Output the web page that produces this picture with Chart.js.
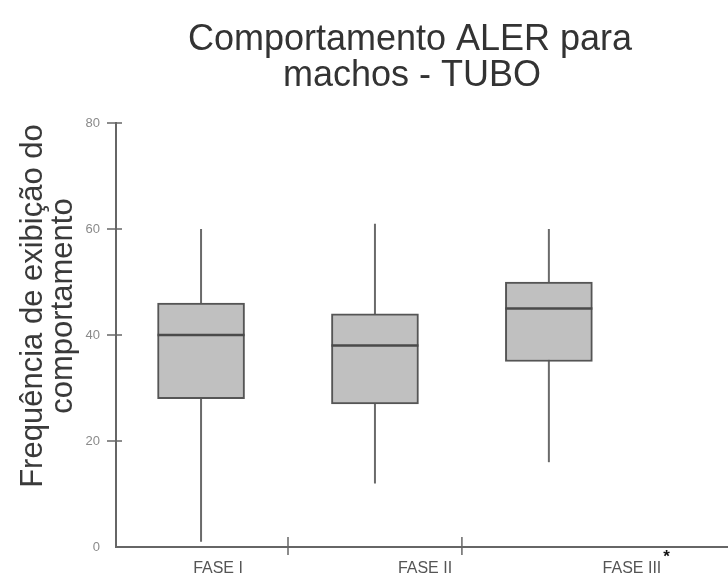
<!DOCTYPE html>
<html>
<head>
<meta charset="utf-8">
<script src="https://cdn.jsdelivr.net/npm/chart.js@4.4.0/dist/chart.umd.min.js"></script>
<style>
    html, body { margin: 0; padding: 0; background: #ffffff; }
    #wrap { width: 728px; height: 575px; }
</style>
</head>
<body>
<div id="wrap"><canvas id="boxChart" width="728" height="575"></canvas></div>
<script>
// dados do boxplot
const categories = ['FASE I', 'FASE II', 'FASE III'];
const minimo  = [1, 12, 16];
const q1      = [28, 27, 35];
const mediana = [40, 38, 45];
const q3      = [46, 44, 50];
const maximo  = [60, 61, 60];
const marcas  = ['', '', '*'];   // marca de significância

const yTicks = [0, 20, 40, 60, 80];
const titleLines = ['Comportamento ALER para', 'machos - TUBO'];
const yTitleLines = ['Frequência de exibição do', 'comportamento'];

const FONT = "'Liberation Sans', Arial, sans-serif";
const AXIS_COLOR = '#666666';
const LABEL_SIZE = 16;

// caixas como barras flutuantes [q1, q3]
const boxData = categories.map((c, i) => ({ x: i + 1, y: [q1[i], q3[i]] }));

/**
 * bigodes, medianas, marcas dos eixos e textos
 */
const boxplotPlugin = {
    id: 'boxplotExtras',
    beforeDatasetsDraw(chart) {
        const { ctx, scales: { x, y } } = chart;
        ctx.save();
        ctx.strokeStyle = '#6a6a6a';
        ctx.lineWidth = 2;
        categories.forEach((c, i) => {
            const px = x.getPixelForValue(i + 1);
            ctx.beginPath();
            ctx.moveTo(px, y.getPixelForValue(minimo[i]));
            ctx.lineTo(px, y.getPixelForValue(maximo[i]));
            ctx.stroke();
        });
        ctx.restore();
    },
    afterDatasetsDraw(chart) {
        const { ctx, scales: { y } } = chart;
        const meta = chart.getDatasetMeta(0);
        ctx.save();
        ctx.strokeStyle = '#4a4a4a';
        ctx.lineWidth = 2.5;
        meta.data.forEach((bar, i) => {
            const half = bar.width / 2;
            const py = y.getPixelForValue(mediana[i]);
            ctx.beginPath();
            ctx.moveTo(bar.x - half, py);
            ctx.lineTo(bar.x + half, py);
            ctx.stroke();
        });
        ctx.restore();
    },
    afterDraw(chart) {
        const { ctx, scales: { x, xLabels, y } } = chart;
        ctx.save();

        // marcas do eixo y (cruzam o eixo)
        ctx.strokeStyle = AXIS_COLOR;
        ctx.lineWidth = 1.5;
        const ax = y.right;
        yTicks.forEach(v => {
            if (v === 0) return;
            const py = y.getPixelForValue(v);
            ctx.beginPath();
            ctx.moveTo(ax - 9, py);
            ctx.lineTo(ax + 6, py);
            ctx.stroke();
        });

        // marcas separadoras no eixo x
        [1.5, 2.5].forEach(v => {
            const px = x.getPixelForValue(v);
            ctx.beginPath();
            ctx.moveTo(px, y.bottom - 10);
            ctx.lineTo(px, y.bottom + 8);
            ctx.stroke();
        });

        // asterisco de significância
        ctx.fillStyle = '#111111';
        ctx.textAlign = 'left';
        ctx.textBaseline = 'middle';
        marcas.forEach((m, i) => {
            if (!m) return;
            ctx.font = LABEL_SIZE + 'px ' + FONT;
            const w = ctx.measureText(categories[i]).width;
            ctx.font = 'bold 17px ' + FONT;
            ctx.fillText(m, xLabels.getPixelForValue(i + 1) + w / 2 + 2, y.bottom + 10);
        });

        // título
        ctx.fillStyle = '#333333';
        ctx.font = '36px ' + FONT;
        ctx.textAlign = 'center';
        ctx.textBaseline = 'alphabetic';
        ctx.fillText(titleLines[0], 410, 50);
        ctx.fillText(titleLines[1], 412, 86);

        // título do eixo y
        ctx.translate(0, 306);
        ctx.rotate(-Math.PI / 2);
        ctx.font = '31px ' + FONT;
        ctx.fillStyle = '#3a3a3a';
        ctx.textBaseline = 'middle';
        ctx.fillText(yTitleLines[0], 0, 33);
        ctx.fillText(yTitleLines[1], 0, 63);
        ctx.restore();
    }
};

new Chart(document.getElementById('boxChart').getContext('2d'), {
    type: 'bar',
    data: {
        datasets: [{
            label: 'Boxplot',
            data: boxData,
            backgroundColor: '#c0c0c0',
            borderColor: '#555555',
            borderWidth: 2,
            borderSkipped: false,
            barThickness: 87
        }]
    },
    options: {
        responsive: false,
        animation: false,
        layout: { padding: { left: 76, top: 123, right: 0, bottom: 0 } },
        plugins: {
            legend: { display: false },
            tooltip: { enabled: false },
            title: { display: false }
        },
        scales: {
            // eixo das caixas (oculto)
            x: {
                type: 'linear',
                display: false,
                min: 0.511,
                max: 4.03,
                offset: false,
                bounds: 'data'
            },
            // eixo visível com os rótulos das fases
            xLabels: {
                type: 'linear',
                position: 'bottom',
                min: 0.507,
                max: 3.464,
                offset: false,
                bounds: 'data',
                afterBuildTicks: scale => {
                    scale.ticks = [1, 2, 3].map(v => ({ value: v }));
                },
                afterFit: scale => { scale.height = 28; },
                grid: { display: false, drawTicks: false },
                border: { display: true, color: AXIS_COLOR, width: 2 },
                ticks: {
                    autoSkip: false,
                    maxRotation: 0,
                    padding: 12,
                    color: '#555555',
                    font: { family: FONT, size: LABEL_SIZE },
                    callback: v => categories[v - 1] || ''
                }
            },
            y: {
                min: 0,
                max: 80,
                afterBuildTicks: scale => {
                    scale.ticks = yTicks.map(v => ({ value: v }));
                },
                afterFit: scale => { scale.width = 40; },
                grid: { display: false, drawTicks: false },
                border: { display: true, color: AXIS_COLOR, width: 2 },
                ticks: {
                    padding: 16,
                    color: '#8a8a8a',
                    font: { family: "'Liberation Sans Narrow', " + FONT, size: 13 }
                }
            }
        }
    },
    plugins: [boxplotPlugin]
});
</script>
</body>
</html>
